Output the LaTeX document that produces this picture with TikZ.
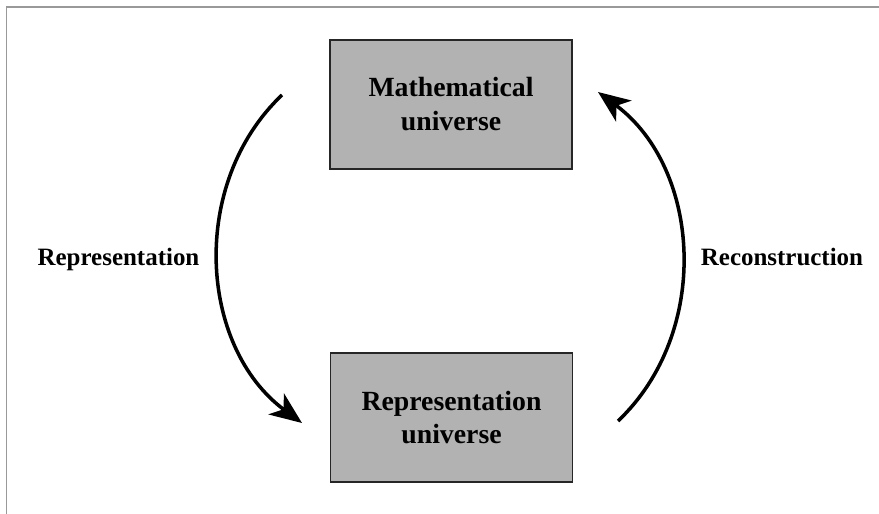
\documentclass[tikz,border=0pt]{standalone}
\usepackage{fontspec}
\setmainfont{Liberation Serif}
\usetikzlibrary{arrows.meta}

\tikzset{
    universe/.style={draw=black!85, line width=0.6pt, fill=black!30,
        minimum width=4.84cm, minimum height=2.58cm, align=center,
        font=\bfseries\fontsize{15.8}{19.3}\selectfont},
    maplabel/.style={anchor=base, font=\bfseries\fontsize{14.2}{17}\selectfont},
    maparrow/.style={line width=2pt, -{Stealth[length=6.4mm, width=5.2mm, inset=1.8mm]}}
}

\begin{document}
\begin{tikzpicture}
        \useasboundingbox (0,0) rectangle (17.58,10.28);
        % rámeček
        \draw[black!40, line width=0.9pt] (0.13,0) -- (0.13,10.14) -- (17.58,10.14);

        % oba světy
        \node[universe] (mathuni) at (9.02,8.19) {Mathematical\\universe};
        \node[universe] (repuni) at (9.03,1.93) {Representation\\universe};

        \coordinate (repstart) at (5.64,8.38);
        \coordinate (repend) at (6.04,1.82);
        \coordinate (recstart) at (12.36,1.86);
        \coordinate (recend) at (11.96,8.44);

        % šipky
        \draw[maparrow] (repstart) to[bend right=50] (repend);
        \draw[maparrow] (recstart) to[bend right=50] (recend);

        \node[maplabel] (replabel) at (2.37,4.96) {Representation};
        \node[maplabel] (reclabel) at (15.64,4.96) {Reconstruction};
    \end{tikzpicture}
\end{document}
